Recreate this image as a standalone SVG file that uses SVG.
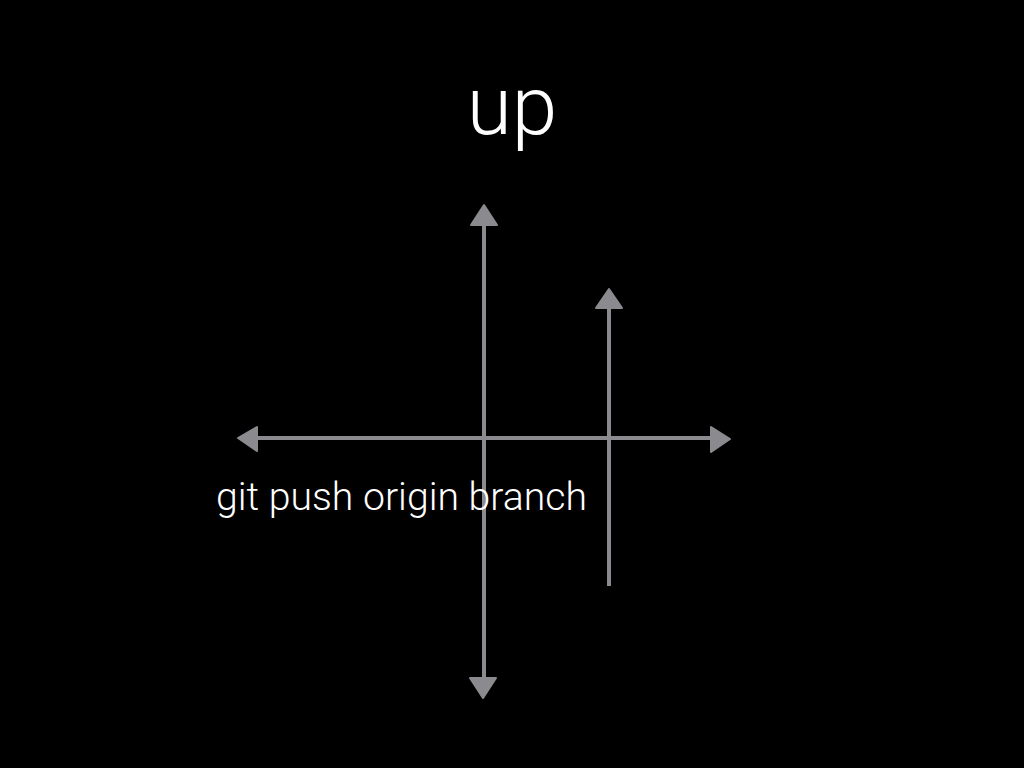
<svg xmlns="http://www.w3.org/2000/svg" width="1024" height="768" viewBox="0 0 1024 768">
<style>
.ln{stroke:#8b8b8f;stroke-width:4;fill:none;stroke-linecap:butt}
.hd{fill:#8b8b8f;stroke:#8b8b8f;stroke-width:2;stroke-linejoin:round}
.t{fill:#ffffff;font-family:Roboto,"Liberation Sans",Arial,sans-serif;font-weight:300}
</style>
<rect width="1024" height="768" fill="#000000"/>
<g id="title"><text class="t" x="512" y="134" font-size="82" text-anchor="middle">up</text></g>
<g id="connectors">
<line class="ln" x1="484" y1="222" x2="484" y2="680"/>
<polygon class="hd" points="484,205 471,225 497,225"/>
<polygon class="hd" points="483,698 470,678 496,678"/>
<line class="ln" x1="609" y1="305" x2="609" y2="586"/>
<polygon class="hd" points="609,289 596,308 622,308"/>
<line class="ln" x1="254" y1="438" x2="714" y2="438"/>
<polygon class="hd" points="238,438 257,427 257,451"/>
<polygon class="hd" points="730,439 711,427 711,452"/>
</g>
<g id="label"><text class="t" x="216" y="510" font-size="38" textLength="371" lengthAdjust="spacingAndGlyphs">git push origin branch</text></g>
</svg>
